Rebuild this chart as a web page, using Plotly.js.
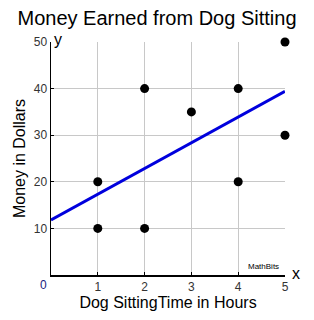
<!DOCTYPE html>
<html>
<head>
<meta charset="utf-8">
<script src="https://cdn.plot.ly/plotly-3.0.1.min.js"></script>
<style>html,body{margin:0;padding:0;background:#fff;}#chart{width:314px;height:320px;}</style>
</head>
<body>
<div id="chart"></div>
<script>
var hours = [1, 1, 2, 2, 3, 4, 4, 5, 5];
var dollars = [20, 10, 40, 10, 35, 40, 20, 50, 30];
var fitX = [0, 5];
var fitY = [11.8, 39.4];
var xTicks = [1, 2, 3, 4, 5];
var yTicks = [10, 20, 30, 40, 50];

var traces = [
  {x: fitX, y: fitY, mode: 'lines', type: 'scatter', line: {color: '#0000dd', width: 3}, hoverinfo: 'skip', cliponaxis: false},
  {x: hours, y: dollars, mode: 'markers', type: 'scatter', marker: {color: '#000', size: 9}, cliponaxis: false}
];

var layout = {
  width: 314, height: 320,
  margin: {l: 51, r: 29, t: 42, b: 45},
  paper_bgcolor: '#fff', plot_bgcolor: '#fff',
  showlegend: false,
  font: {family: 'Arial, Liberation Sans, sans-serif', color: '#000'},
  title: {text: 'Money Earned from Dog Sitting', font: {size: 20, color: '#000'}, x: 0.5, xanchor: 'center', y: 0.945, yanchor: 'middle'},
  xaxis: {
    range: [0, 5], tickvals: xTicks, ticktext: xTicks.map(String),
    showgrid: true, gridcolor: '#c8c8c8', gridwidth: 1,
    showline: true, linecolor: '#000', linewidth: 1.5,
    ticks: 'inside', ticklen: 3, tickcolor: '#000',
    tickfont: {size: 12, color: '#333'}, zeroline: false,
    title: {text: 'Dog SittingTime in Hours', font: {size: 16, color: '#000'}, standoff: 3},
    fixedrange: true
  },
  yaxis: {
    range: [0, 50], tickvals: yTicks, ticktext: yTicks.map(String),
    showgrid: true, gridcolor: '#c8c8c8', gridwidth: 1,
    showline: true, linecolor: '#000', linewidth: 1.5,
    ticks: 'inside', ticklen: 3, tickcolor: '#000',
    tickfont: {size: 12, color: '#333'}, zeroline: false,
    title: {text: 'Money in Dollars', font: {size: 16, color: '#000'}, standoff: 4},
    fixedrange: true
  },
  annotations: [
    {text: '0', xref: 'paper', yref: 'paper', x: -0.01, y: -0.005, xanchor: 'right', yanchor: 'top', showarrow: false, font: {size: 12, color: '#1a237e'}},
    {text: 'y', xref: 'paper', yref: 'paper', x: 0.005, y: 1.0, xanchor: 'left', yanchor: 'bottom', yshift: -8, showarrow: false, font: {size: 16, color: '#000'}},
    {text: 'x', xref: 'paper', yref: 'paper', x: 1.02, y: 0, xanchor: 'left', yanchor: 'middle', yshift: 2, showarrow: false, font: {size: 16, color: '#000'}},
    {text: 'MathBits', xref: 'paper', yref: 'paper', x: 0.985, y: 0.01, xanchor: 'right', yanchor: 'bottom', showarrow: false, font: {size: 8, color: '#000'}}
  ]
};

Plotly.newPlot('chart', traces, layout, {displayModeBar: false, staticPlot: true});
</script>
</body>
</html>
